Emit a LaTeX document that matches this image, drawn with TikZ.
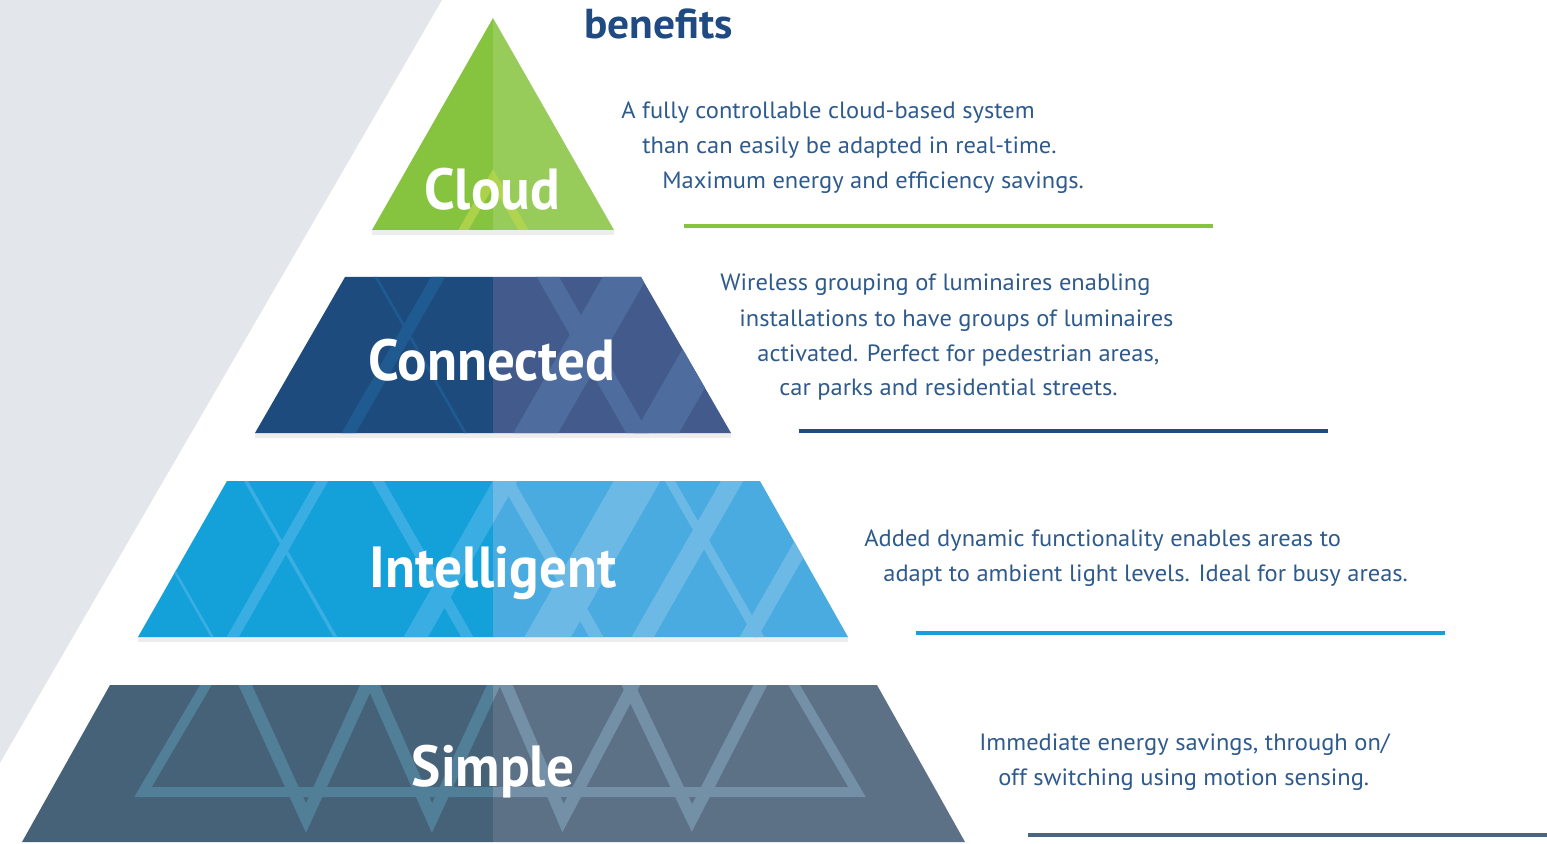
\documentclass[tikz,border=0pt]{standalone}
\usepackage{fontspec}
\setmainfont{PT Sans}[FakeStretch=1.04]
\newfontfamily\tierfont{PT Sans}[FakeStretch=0.95]
\usetikzlibrary{calc, positioning}

\definecolor{bggray}{HTML}{E3E7EC}
\definecolor{textblue}{HTML}{2E5A8C}
\definecolor{titleblue}{HTML}{1F4B82}
\definecolor{cloudL}{HTML}{86C440}
\definecolor{cloudR}{HTML}{97CB5A}
\definecolor{cloudband}{HTML}{BCD84C}
\definecolor{connL}{HTML}{1E4B7E}
\definecolor{connR}{HTML}{425B8C}
\definecolor{connbandL}{HTML}{1F5A91}
\definecolor{connbandR}{HTML}{4F6C9E}
\definecolor{intL}{HTML}{14A1DA}
\definecolor{intR}{HTML}{4AABE0}
\definecolor{intbandL}{HTML}{3AAEE2}
\definecolor{intbandR}{HTML}{6DB9E6}
\definecolor{simL}{HTML}{466279}
\definecolor{simR}{HTML}{5C7086}
\definecolor{simbandL}{HTML}{517F98}
\definecolor{simbandR}{HTML}{7490A6}
\definecolor{ruleslate}{HTML}{4A6580}

\tikzset{
    tierlabel/.style={
           text=white,
           font=\tierfont\bfseries\fontsize{33}{33}\selectfont,
           anchor=base,
           inner sep=0pt,
           },
    benefit/.style={
           text=textblue,
           font=\fontsize{13.4}{13.4}\selectfont,
           anchor=base west,
           inner sep=0pt,
           },
    rule/.style={
           line width=2pt,
           },
    shade/.style={
           fill=black, opacity=0.07,
           },
}

% bands running parallel to the pyramid sides, #1 = x on the top edge
\newcommand{\slashband}[3]{\draw[line width=#3] (#1,#2) ++(11.5,-20) -- ++(-126,220);}
\newcommand{\backband}[3]{\draw[line width=#3] (#1,#2) ++(-11.5,-20) -- ++(126,220);}

\newcommand{\connbands}{%
 \slashband{438}{277}{7pt}
 \backband{376}{277}{1.5pt}
 \backband{548}{277}{11pt}
 \slashband{625}{277}{22pt}
 \slashband{746}{277}{22pt}
}
\newcommand{\intbands}{%
 \backband{123}{481}{1.5pt}
 \backband{246}{481}{2pt}
 \slashband{322}{481}{6pt}
 \backband{378}{481}{6pt}
 \slashband{505}{481}{12pt}
 \backband{507}{481}{7pt}
 \slashband{637}{481}{23pt}
 \backband{670}{481}{5pt}
 \slashband{732}{481}{11pt}
 \slashband{838}{481}{9pt}
}
\newcommand{\simbands}{%
 \draw[line width=5.7pt] (210,678) -- (143,792) -- (857,792) -- (790,678);
 \draw[line width=7pt] (242,678) -- (306,818) -- (370,678);
 \draw[line width=7pt] (370,678) -- (432,818) -- (497,678);
 \draw[line width=7pt] (503,678) -- (563,818) -- (637,678);
 \draw[line width=7pt] (625,678) -- (692,818) -- (764,678);
}

\begin{document}
\begin{tikzpicture}[x=0.02cm, y=-0.02cm]

 \useasboundingbox (0,0) rectangle (1547,844);

 % grey backdrop
 \fill[bggray] (0,0) -- (442,0) -- (0,763) -- cycle;

 % Cloud
 \fill[shade] (372,230) rectangle (614,235);
 \begin{scope}
  \clip (493,18) -- (614,230) -- (372,230) -- cycle;
  \fill[cloudL] (372,0) rectangle (493,230);
  \fill[cloudR] (493,0) rectangle (614,230);
  \draw[cloudband, opacity=0.7, line width=5pt] (460,236) -- (493,178) -- (527,236);
 \end{scope}

 % Connected
 \fill[shade] (255,433) rectangle (731,438);
 \begin{scope}
  \clip (345,277) -- (641,277) -- (731,433) -- (255,433) -- cycle;
  \begin{scope}
   \clip (0,270) rectangle (493,440);
   \fill[connL] (0,270) rectangle (493,440);
   \begin{scope}[draw=connbandL] \connbands \end{scope}
  \end{scope}
  \begin{scope}
   \clip (493,270) rectangle (800,440);
   \fill[connR] (493,270) rectangle (800,440);
   \begin{scope}[draw=connbandR] \connbands \end{scope}
  \end{scope}
 \end{scope}

 % Intelligent
 \fill[shade] (138,637) rectangle (848,642);
 \begin{scope}
  \clip (227,481) -- (760,481) -- (848,637) -- (138,637) -- cycle;
  \begin{scope}
   \clip (0,470) rectangle (493,645);
   \fill[intL] (0,470) rectangle (493,645);
   \begin{scope}[draw=intbandL] \intbands \end{scope}
  \end{scope}
  \begin{scope}
   \clip (493,470) rectangle (900,645);
   \fill[intR] (493,470) rectangle (900,645);
   \begin{scope}[draw=intbandR] \intbands \end{scope}
  \end{scope}
 \end{scope}

 % Simple
 \begin{scope}
  \clip (110,685) -- (877,685) -- (965,842) -- (22,842) -- cycle;
  \begin{scope}
   \clip (0,675) rectangle (493,850);
   \fill[simL] (0,675) rectangle (493,850);
   \begin{scope}[draw=simbandL, line join=miter] \simbands \end{scope}
  \end{scope}
  \begin{scope}
   \clip (493,675) rectangle (1000,850);
   \fill[simR] (493,675) rectangle (1000,850);
   \begin{scope}[draw=simbandR, line join=miter] \simbands \end{scope}
  \end{scope}
 \end{scope}

 % tier names
 \node[tierlabel] (CLOUD) at (492,210) {Cloud};
 \node[tierlabel] (CONNECTED) at (492,380) {Connected};
 \node[tierlabel] (INTELLIGENT) at (493,587) {Intelligent};
 \node[tierlabel] (SIMPLE) at (493,786) {Simple};

 \node[anchor=base west, inner sep=0pt, text=titleblue,
       font=\bfseries\fontsize{23.8}{23.8}\selectfont] (TITLE) at (584,39)
 {%
  benefits
 };

 % Cloud text
 \node[benefit] (CLOUD_TXT_1) at (621,119)
 {%
  A fully controllable cloud-based system
 };
 \node[benefit] (CLOUD_TXT_2) at (642,154)
 {%
  than can easily be adapted in real-time.
 };
 \node[benefit] (CLOUD_TXT_3) at (662,189)
 {%
  Maximum energy and efficiency savings.
 };

 % Connected text
 \node[benefit] (CONNECTED_TXT_1) at (720,291)
 {%
  Wireless grouping of luminaires enabling
 };
 \node[benefit] (CONNECTED_TXT_2) at (739,326)
 {%
  installations to have groups of luminaires
 };
 \node[benefit] (CONNECTED_TXT_3) at (757,361)
 {%
  activated. Perfect for pedestrian areas,
 };
 \node[benefit] (CONNECTED_TXT_4) at (779,395)
 {%
  car parks and residential streets.
 };

 % Intelligent text
 \node[benefit] (INTELLIGENT_TXT_1) at (864,546)
 {%
  Added dynamic functionality enables areas to
 };
 \node[benefit] (INTELLIGENT_TXT_2) at (883,581)
 {%
  adapt to ambient light levels. Ideal for busy areas.
 };

 % Simple text
 \node[benefit] (SIMPLE_TXT_1) at (979,750)
 {%
  Immediate energy savings, through on/
 };
 \node[benefit] (SIMPLE_TXT_2) at (998,785)
 {%
  off switching using motion sensing.
 };

 % rules under each block
 \coordinate (CLOUD_RULE_A) at (684,226);
 \coordinate (CLOUD_RULE_B) at (1213,226);
 \coordinate (CONNECTED_RULE_A) at (799,431);
 \coordinate (CONNECTED_RULE_B) at (1328,431);
 \coordinate (INTELLIGENT_RULE_A) at (916,633);
 \coordinate (INTELLIGENT_RULE_B) at (1445,633);
 \coordinate (SIMPLE_RULE_A) at (1028,835);
 \coordinate (SIMPLE_RULE_B) at (1547,835);

 \draw[rule, cloudL] (CLOUD_RULE_A) -- (CLOUD_RULE_B);
 \draw[rule, titleblue] (CONNECTED_RULE_A) -- (CONNECTED_RULE_B);
 \draw[rule, intL] (INTELLIGENT_RULE_A) -- (INTELLIGENT_RULE_B);
 \draw[rule, ruleslate] (SIMPLE_RULE_A) -- (SIMPLE_RULE_B);

\end{tikzpicture}
\end{document}
